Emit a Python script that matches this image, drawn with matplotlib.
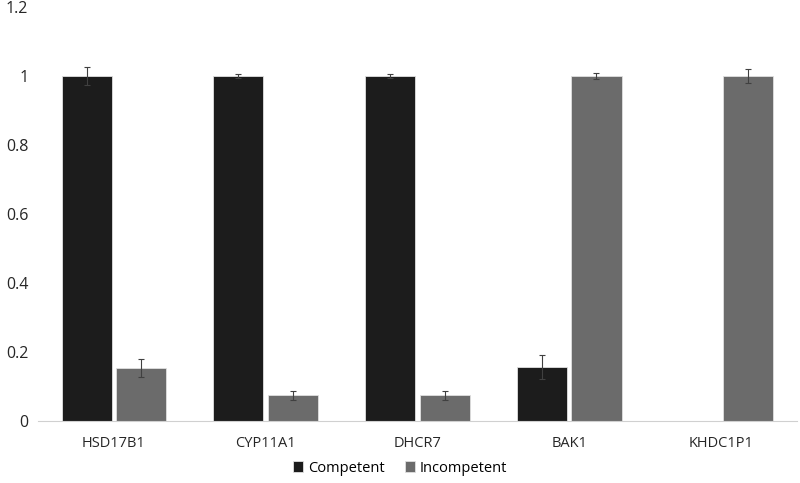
import numpy as np
import matplotlib.pyplot as plt
from matplotlib.ticker import FuncFormatter

genes = ["HSD17B1", "CYP11A1", "DHCR7", "BAK1", "KHDC1P1"]
competent = [1.0, 1.0, 1.0, 0.157, 0.0]
competent_err = [0.026, 0.005, 0.005, 0.035, 0.0]
incompetent = [0.154, 0.075, 0.075, 1.0, 1.0]
incompetent_err = [0.025, 0.013, 0.013, 0.008, 0.02]

plt.rcParams['font.family'] = ['Open Sans', 'DejaVu Sans']

fig = plt.figure(figsize=(8, 4.83), dpi=100)
ax = fig.add_axes([0.0475, 0.128, 0.9485, 0.8575])

x = np.arange(len(genes))
w = 0.33
err_kw = dict(ecolor="#404040", elinewidth=0.8, capsize=2.5, capthick=0.8)
comp_err = [e if v > 0 else np.nan for v, e in zip(competent, competent_err)]
ax.bar(x - 0.18, competent, w, yerr=comp_err, color="#1c1c1c",
       edgecolor="#e0e0e0", linewidth=0.6, error_kw=err_kw, label="Competent")
ax.bar(x + 0.18, incompetent, w, yerr=incompetent_err, color="#6b6b6b",
       edgecolor="#e0e0e0", linewidth=0.6, error_kw=err_kw, label="Incompetent")

ax.set_xlim(-0.5, len(genes) - 0.5)
ax.set_ylim(0, 1.2)
ax.set_yticks(np.arange(0, 1.21, 0.2))
ax.yaxis.set_major_formatter(FuncFormatter(lambda v, p: f"{v:g}"))
ax.set_xticks(x)
ax.set_xticklabels(genes)
ax.tick_params(axis="both", length=0, labelsize=10.5, colors="#262626")
ax.tick_params(axis="x", pad=11)
ax.tick_params(axis="y", labelsize=11.5, pad=7)

for s in ["top", "right", "left"]:
    ax.spines[s].set_visible(False)
ax.spines["bottom"].set_color("#d0d0d0")
ax.spines["bottom"].set_linewidth(0.8)

fig.legend(loc="lower center", bbox_to_anchor=(0.5, -0.012), ncol=2, frameon=False,
           fontsize=10.5, handlelength=0.7, handleheight=0.7, handletextpad=0.3,
           columnspacing=1.4)

fig.savefig("out.png", dpi=100)
